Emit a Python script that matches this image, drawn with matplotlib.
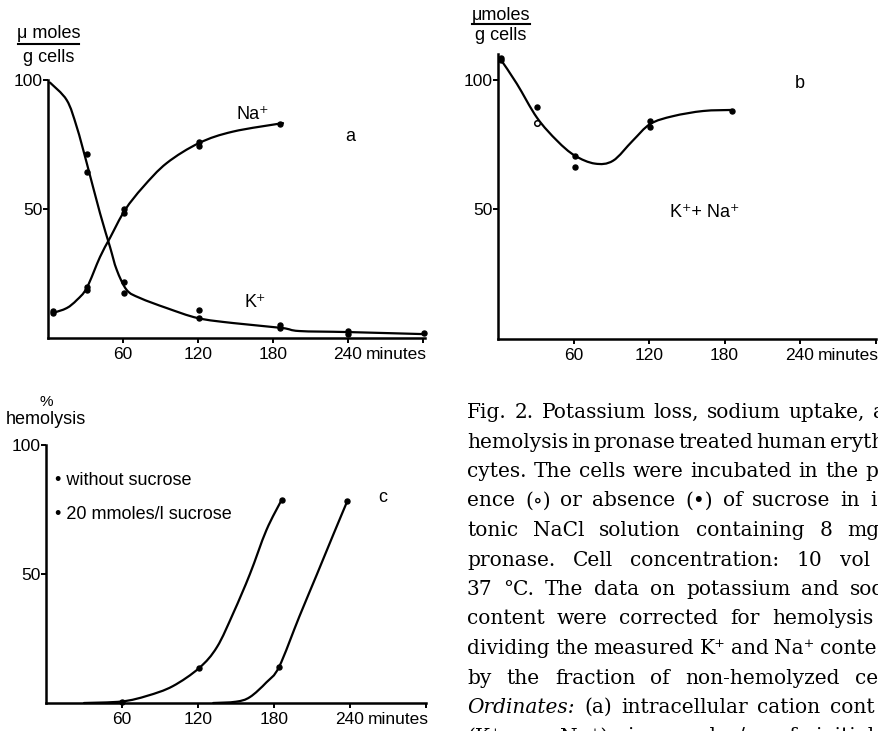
import numpy as np
import matplotlib.pyplot as plt
from matplotlib.lines import Line2D
from matplotlib.path import Path
from matplotlib.patches import PathPatch

plt.rcParams['font.family'] = ['Liberation Sans', 'DejaVu Sans']

# panel a: intracellular K+ and Na+ (umoles / g cells) vs minutes
a_na_t = [4, 4, 31, 31, 61, 61, 121, 121, 186]
a_na_v = [9.5, 10.5, 18.5, 19.8, 48.5, 50.0, 74.5, 75.8, 83.0]
a_k_t = [31, 31, 61, 61, 121, 121, 186, 186, 240, 240, 301]
a_k_v = [71.5, 64.3, 21.7, 17.4, 10.8, 7.6, 5.2, 3.8, 2.6, 1.6, 1.8]
# hand drawn curves
a_k_curve_t = [1.6, 15, 23, 31, 41.6, 49.6, 55, 63, 73.6, 95, 120, 148, 187, 201, 240, 301]
a_k_curve_v = [99, 92.2, 81.8, 67.8, 48.4, 35.3, 26.4, 18.6, 15.5, 11.6, 7.7, 5.8, 3.9, 2.7, 2.3, 1.5]
a_na_curve_t = [4, 15, 23, 31, 41.6, 49.6, 61.6, 76, 95, 121, 148, 188]
a_na_curve_v = [9.7, 11.6, 14.7, 19.4, 31.4, 38.8, 49.6, 58.5, 67.8, 75.6, 80, 83.3]

# panel b: K+ + Na+
b_t = [2, 2, 31, 61, 61, 121, 121, 186]
b_v = [108.5, 107.5, 89.6, 70.8, 66.2, 84.0, 81.7, 88.0]
b_open_t = [31]
b_open_v = [83.5]
b_curve_t = [2.4, 15, 31, 47, 61, 77, 91.4, 107, 121, 139, 163, 186]
b_curve_v = [107.7, 98.5, 85.4, 76.5, 70.8, 67.7, 68.8, 76.5, 83, 86, 88, 88.4]

# panel c: % hemolysis
c1_t = [60, 121, 186]
c1_v = [0.5, 13.6, 78.7]
c2_t = [184, 238]
c2_v = [14.0, 78.4]
c1_curve_t = [30, 60, 80, 100, 121, 135, 148, 161, 174, 186]
c1_curve_v = [0, 0.6, 2.8, 6.5, 13.6, 21.7, 35, 50, 67, 78.7]
c2_curve_t = [132, 150, 161, 174, 184, 200, 214, 227, 238]
c2_curve_v = [0, 0.5, 2.3, 8, 14, 33.5, 50, 65.5, 78.4]

x_ticks = [60, 120, 180, 240, 300]
x_labels = ['60', '120', '180', '240', '']

caption_lines = [
    "Fig. 2. Potassium loss, sodium uptake, a",
    "hemolysis in pronase treated human eryth",
    "cytes. The cells were incubated in the pr",
    "ence (\u2218) or absence (\u2022) of sucrose in i",
    "tonic NaCl solution containing 8 mg",
    "pronase. Cell concentration: 10 vol",
    "37 \u00b0C. The data on potassium and sodi",
    "content were corrected for hemolysis by",
    "dividing the measured K\u207a and Na\u207a conte",
    "by the fraction of non-hemolyzed ce",
    "Ordinates: (a) intracellular cation cont",
    "(K\u207a or Na\u207a) in \u03bcmoles/g of initial",
]
# where the last word of each justified line begins (px)
caption_last_x = [873, 827, 865, 870, 847, 840, 850, 885, 820, 855, 830, 815]

W, H = 879, 731
fig = plt.figure(figsize=(W / 100, H / 100), dpi=100)


def px_axes(x0, x1, y_top, y_bot):
    return fig.add_axes([x0 / W, 1 - y_bot / H, (x1 - x0) / W, (y_bot - y_top) / H])


def smooth(t, v):
    # Catmull-Rom through the traced points, drawn as bezier segments
    p = np.column_stack([t, v]).astype(float)
    ext = np.vstack([p[0], p, p[-1]])
    verts, codes = [p[0]], [Path.MOVETO]
    for i in range(len(p) - 1):
        p0, p1, p2, p3 = ext[i], ext[i + 1], ext[i + 2], ext[i + 3]
        verts += [p1 + (p2 - p0) / 6, p2 - (p3 - p1) / 6, p2]
        codes += [Path.CURVE4] * 3
    return PathPatch(Path(verts, codes), fill=False, lw=1.6, ec='black',
                     clip_on=False, capstyle='round')


def style(ax, xmax, ymax, minutes_t):
    ax.set_xlim(0, xmax)
    ax.set_ylim(0, ymax)
    for s in ['top', 'right']:
        ax.spines[s].set_visible(False)
    for s in ['left', 'bottom']:
        ax.spines[s].set_linewidth(1.8)
    ax.set_xticks(x_ticks, x_labels)
    ax.set_yticks([50, 100])
    ax.tick_params(direction='out', length=3.6, width=1.4, labelsize=12.5)
    ax.tick_params(axis='y', pad=0.5)
    ax.tick_params(axis='x', pad=3)
    ax.annotate('minutes', xy=(minutes_t, 0), xycoords=('data', 'axes fraction'),
                xytext=(0, -6.6), textcoords='offset points', ha='left', va='top',
                fontsize=12.5)


def unit_label(cx, y1, y2, top, bottom, x0, x1, yline):
    fig.text(cx / W, 1 - y1 / H, top, ha='center', va='center', fontsize=13)
    fig.text(cx / W, 1 - y2 / H, bottom, ha='center', va='center', fontsize=13)
    fig.add_artist(Line2D([x0 / W, x1 / W], [1 - yline / H] * 2, lw=1.5, color='black'))


dot = dict(ls='none', marker='o', ms=3.6, color='black', clip_on=False)

# ---- panel a
ax = px_axes(48, 425.5, 80, 338)
ax.add_patch(smooth(a_k_curve_t, a_k_curve_v))
ax.add_patch(smooth(a_na_curve_t, a_na_curve_v))
ax.plot(a_k_t, a_k_v, **dot)
ax.plot(a_na_t, a_na_v, **dot)
ax.text(164, 86.5, 'Na\u207a', fontsize=13, ha='center', va='center')
ax.text(166, 13.6, 'K\u207a', fontsize=13, ha='center', va='center')
ax.text(242, 78, 'a', fontsize=13, ha='center', va='center')
style(ax, 302, 100, 254)
unit_label(49, 33, 57, '\u03bc moles', 'g cells', 18, 79, 44)

# ---- panel b
ax = px_axes(498, 875.5, 54, 339)
ax.add_patch(smooth(b_curve_t, b_curve_v))
ax.plot(b_t, b_v, **dot)
ax.plot(b_open_t, b_open_v, ls='none', marker='o', ms=4, mfc='white',
        mec='black', mew=1.1)
ax.text(240, 98.8, 'b', fontsize=13, ha='center', va='center')
ax.text(164.5, 48.8, 'K\u207a+ Na\u207a', fontsize=13, ha='center', va='center')
style(ax, 300, 110, 254)
unit_label(501, 15, 35, '\u03bcmoles', 'g cells', 472, 530, 24)

# ---- panel c
ax = px_axes(46, 426, 445, 703)
ax.add_patch(smooth(c1_curve_t, c1_curve_v))
ax.add_patch(smooth(c2_curve_t, c2_curve_v))
ax.plot(c1_t, c1_v, **dot)
ax.plot(c2_t, c2_v, **dot)
ax.text(7, 86.4, '\u2022 without sucrose', fontsize=13, ha='left', va='center')
ax.text(7, 72.9, '\u2022 20 mmoles/l sucrose', fontsize=13, ha='left', va='center')
ax.text(266, 79.5, 'c', fontsize=13, ha='center', va='center')
style(ax, 300, 100, 254)
fig.text(46 / W, 1 - 402 / H, '%', ha='center', va='center', fontsize=11)
fig.text(46 / W, 1 - 419 / H, 'hemolysis', ha='center', va='center', fontsize=13)

# ---- caption, justified line by line
renderer = fig.canvas.get_renderer()
serif = ['DejaVu Serif']
for i, (line, x_last) in enumerate(zip(caption_lines, caption_last_x)):
    words = line.split(' ')
    y = 1 - (418 + i * 29.5) / H
    arts = []
    for w in words:
        st = 'italic' if w == 'Ordinates:' else 'normal'
        arts.append(fig.text(0, y, w, family=serif, style=st, fontsize=14.5,
                             ha='left', va='baseline'))
    widths = [a.get_window_extent(renderer).width for a in arts]
    gap = max(3, (x_last - 467 - sum(widths[:-1])) / (len(words) - 1))
    x = 467
    for a, wd in zip(arts, widths):
        a.set_x(x / W)
        x += wd + gap

fig.savefig('out.png', dpi=100)
